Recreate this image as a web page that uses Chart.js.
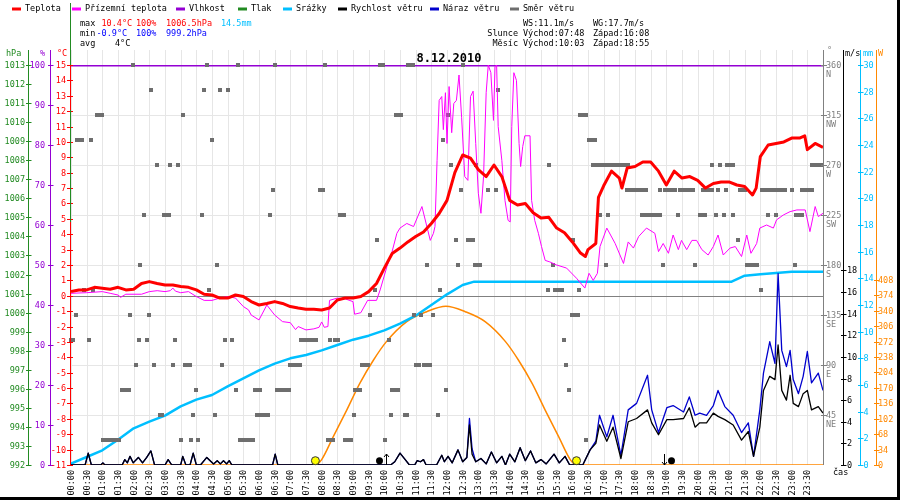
<!DOCTYPE html>
<html lang="cs">
<head>
<meta charset="utf-8">
<title>8.12.2010</title>
<script src="https://cdn.jsdelivr.net/npm/chart.js@4.4.1/dist/chart.umd.min.js"></script>
<style>
  html, body { margin: 0; padding: 0; background: #fff; }
  canvas { display: block; }
</style>
</head>
<body>
<canvas id="meteo" width="900" height="500"></canvas>
<script>
// ---------- data ----------
const tempTimes = [
  '00:00','00:15','00:30','00:45','01:00','01:15','01:30','01:45','02:00','02:15','02:30','02:45',
  '03:00','03:15','03:30','03:45','04:00','04:15','04:30','04:45','05:00','05:15','05:30','05:45',
  '06:00','06:15','06:30','06:45','07:00','07:15','07:30','07:45','08:00','08:15','08:30','08:45',
  '09:00','09:15','09:30','09:45','10:00','10:15','10:30','10:45','11:00','11:15','11:30','11:45',
  '12:00','12:15','12:30','12:45','13:00','13:15','13:30','13:45','14:00','14:15','14:30','14:45',
  '15:00','15:15','15:30','15:45','16:00','16:15','16:25','16:30','16:45','16:50','17:00','17:15',
  '17:30','17:35','17:45','18:00','18:15','18:30','18:45','19:00','19:15','19:30','19:45','20:00',
  '20:15','20:30','20:45','21:00','21:15','21:30','21:45','21:52','22:00','22:15','22:30','22:45',
  '23:00','23:15','23:25','23:30','23:45','24:00'
];
const tempValues = [
  0.27,0.38,0.38,0.55,0.49,0.42,0.55,0.38,0.42,0.8,0.92,0.8,
  0.7,0.7,0.6,0.55,0.38,0.1,0.05,-0.15,-0.15,0.05,-0.05,-0.38,
  -0.6,-0.5,-0.38,-0.5,-0.7,-0.8,-0.88,-0.88,-0.92,-0.8,-0.27,-0.15,
  -0.15,-0.05,0.27,0.8,1.8,2.75,3.1,3.5,3.85,4.15,4.7,5.35,
  6.2,8.0,9.15,8.95,8.2,7.75,8.5,7.75,6.2,5.9,6.0,5.4,
  5.05,5.1,4.4,4.1,3.5,2.8,2.55,3.0,3.4,6.4,7.15,8.1,
  7.65,7.0,8.3,8.4,8.7,8.7,8.1,7.2,8.1,7.65,7.75,7.5,
  7.0,7.3,7.4,7.4,7.2,7.1,6.55,7.0,9.05,9.8,9.9,10.0,
  10.25,10.25,10.4,9.5,9.9,9.65
];

const groundTimes = [
  '00:00','00:30','01:00','01:15','01:30','01:35','01:45','02:15','02:30','02:45','03:00','03:10',
  '03:15','03:20','03:30','03:45','04:00','04:15','04:30','04:45','05:00','05:15','05:30','05:40',
  '05:45','06:00','06:15','06:30','06:45','07:00','07:10','07:15','07:30','07:45','07:55','08:00',
  '08:05','08:12','08:15','08:30','08:45','09:00','09:03','09:15','09:28','09:45','09:52','10:05',
  '10:14','10:24','10:30','10:43','10:56','11:12','11:28','11:34','11:37','11:41','11:45','11:50',
  '11:53','11:57','12:00','12:04','12:09','12:13','12:18','12:23','12:28','12:34','12:40','12:45',
  '12:50','12:55','13:00','13:05','13:10','13:15','13:19','13:24','13:29','13:32','13:35','13:38',
  '13:45','13:51','13:57','14:01','14:04','14:08','14:13','14:18','14:21','14:25','14:29','14:39',
  '14:42','14:48','14:55','15:01','15:08','15:17','15:30','15:49','16:08','16:24','16:32','16:40',
  '16:48','16:53','17:06','17:22','17:38','17:47','17:57','18:07','18:22','18:38','18:45','18:54',
  '19:04','19:13','19:23','19:29','19:39','19:49','19:58','20:08','20:20','20:30','20:39','20:49',
  '21:02','21:12','21:24','21:34','21:42','21:53','21:59','22:12','22:25','22:31','22:44','22:57',
  '23:10','23:26','23:35','23:45','23:51','24:00'
];
const groundValues = [
  0.16,0.2,0.27,0.16,0.05,-0.1,0.1,0.1,0.27,0.33,0.27,0.33,
  0.5,0.3,0.2,0.27,-0.05,-0.3,-0.3,-0.15,-0.05,-0.15,-0.7,-0.92,
  -1.25,-1.57,-0.6,-1.25,-1.68,-1.75,-2.2,-2.0,-2.22,-2.15,-2.05,-1.7,
  -2.05,-2.0,-0.3,-0.15,-0.2,-0.38,-1.2,-1.1,-0.3,-0.3,0.38,1.9,
  2.76,4.06,4.4,4.7,4.5,5.8,3.6,4.06,4.5,8.8,12.7,12.95,
  10.8,13.2,9.9,13.6,10.6,12.5,12.7,14.35,11.6,7.75,7.5,12.95,
  13.3,9.9,6.66,5.36,7.75,13.2,15.0,14.5,11.4,14.9,15.0,11.0,
  8.8,6.2,4.9,4.8,11.0,14.5,14.0,9.9,8.4,9.7,10.4,10.4,
  6.2,4.9,4.06,3.2,2.3,2.2,2.0,1.8,1.14,0.5,1.46,1.0,
  1.46,3.2,4.4,3.4,2.1,3.5,3.1,3.85,4.4,4.06,2.87,3.4,
  2.76,3.95,3.0,3.6,3.0,3.6,3.6,3.0,2.65,3.2,3.95,2.65,
  3.1,3.2,2.55,3.95,2.76,3.4,4.4,4.6,4.4,4.93,5.25,5.47,
  5.58,5.58,4.17,5.8,5.15,5.36
];

const humidityTimes = ['00:00', '24:00'];
const humidityValues = [100, 100];

const rainTimes = [
  '00:00','00:30','01:00','01:30','02:00','02:30','03:00','03:30','04:00','04:30','05:00','05:30',
  '06:00','06:30','07:00','07:30','08:00','08:30','09:00','09:30','10:00','10:30','11:00','11:30',
  '12:00','12:30','12:52','21:05','21:30','22:00','22:30','23:00','24:00'
];
const rainValues = [
  0.1,0.6,1.1,1.9,2.75,3.25,3.7,4.4,4.9,5.25,5.9,6.5,
  7.1,7.6,8.0,8.25,8.6,9.0,9.4,9.7,10.1,10.6,11.2,12.0,
  12.8,13.5,13.75,13.75,14.2,14.3,14.4,14.5,14.5
];

const windTimes = [
  '00:00','00:27','00:33','00:39','00:57','01:01','01:05','01:38','01:43','01:48',
  '01:53','01:59','02:09','02:17','02:25','02:33','02:40','03:00','03:06','03:13',
  '03:30','03:34','03:40','03:48','03:54','04:00','04:08','04:20','04:33','04:40',
  '04:46','04:52','04:58','05:03','05:08','06:26','06:31','06:36','10:12','10:20',
  '10:30','10:40','10:48','10:58','11:03','11:09','11:15','11:20','11:40','11:50',
  '11:55','12:02','12:10','12:21','12:30','12:38','12:43','12:48','12:55','13:05',
  '13:15','13:25','13:35','13:45','13:52','14:00','14:10','14:20','14:30','14:40',
  '14:50','15:00','15:10','15:25','15:35','15:46','15:55','16:20','16:34','16:45',
  '16:52','17:06','17:18','17:33','17:47','18:03','18:24','18:32','18:45','19:01',
  '19:13','19:33','19:44','19:55','20:04','20:17','20:30','20:39','20:52','21:08',
  '21:24','21:37','21:47','21:59','22:06','22:18','22:28','22:34','22:41','22:50',
  '22:57','23:03','23:13','23:22','23:30','23:38','23:51','24:00'
];
const windSpeed = [
  0,0,1.1,0,0,0.2,0,0,0.5,0.2,
  0.8,0.2,0.7,0.2,0.7,1.3,0,0,0.5,0,
  0,0.8,0,0,1.1,0,0,0.7,0.1,0.4,
  0.1,0.4,0.1,0.4,0,0,1.0,0,0,0.3,
  1.1,0.5,0,0,0.4,0.3,0.5,0,0,0.9,
  0.3,0.8,0.2,1.4,0.3,0.7,3.7,1.0,0.3,0.6,
  0.1,1.2,0.2,0.8,0,1.0,0.3,1.6,0.4,1.3,
  0.2,0.5,0.1,1.0,0.2,0.8,0,0,1.4,2.0,
  3.7,2.2,3.5,0.6,4.0,4.3,5.1,3.9,2.8,4.2,
  4.2,4.3,5.3,3.5,3.9,3.9,4.8,4.5,4.2,3.7,
  2.3,3.1,0.8,3.5,6.9,8.2,7.9,11.1,6.9,6.0,
  8.3,5.7,5.4,6.6,6.9,5.1,5.4,4.8
];
const gustSpeed = [
  0,0,1.1,0,0,0.2,0,0,0.5,0.2,
  0.8,0.2,0.7,0.2,0.7,1.3,0,0,0.5,0,
  0,0.8,0,0,1.1,0,0,0.7,0.1,0.4,
  0.1,0.4,0.1,0.4,0,0,1.0,0,0,0.3,
  1.1,0.5,0,0,0.4,0.3,0.5,0,0,0.9,
  0.3,0.8,0.2,1.4,0.3,0.7,4.3,1.5,0.3,0.6,
  0.1,1.2,0.2,0.8,0,1.0,0.3,1.6,0.4,1.3,
  0.2,0.5,0.1,1.0,0.2,0.8,0,0,1.4,2.2,
  4.6,2.6,4.6,0.9,5.1,5.7,8.3,5.1,3.0,5.3,
  5.5,4.9,6.3,4.6,4.8,4.6,5.5,6.9,5.4,4.6,
  3.0,3.9,0.8,5.1,8.5,11.4,9.4,17.7,10.6,9.1,
  10.6,7.9,6.6,8.2,10.5,7.6,8.5,6.9
];

const dirTimes = [
  '00:00','00:03','00:09','00:12','00:17','00:22','00:24','00:34','00:38','00:43','00:49','00:55',
  '01:00','01:02','01:08','01:14','01:20','01:26','01:32','01:37','01:42','01:47','01:51','01:53','01:58',
  '02:04','02:10','02:13','02:20','02:25','02:29','02:34','02:39','02:44','02:50','02:55','02:58',
  '03:03','03:08','03:10','03:15','03:19','03:24','03:30','03:34','03:38','03:43','03:48','03:49','03:54',
  '04:00','04:04','04:10','04:15','04:20','04:25','04:30','04:36','04:39','04:45','04:50','04:55',
  '05:00','05:08','05:15','05:20','05:24','05:30','05:36','05:42','05:49','05:52','05:56','05:57',
  '06:01','06:02','06:07','06:12','06:18','06:21','06:26','06:31','06:34','06:40','06:46','06:52','06:58',
  '07:00','07:05','07:10','07:15','07:19','07:20','07:25','07:30','07:35','07:40','07:45','07:50','07:56',
  '08:02','08:06','08:13','08:16','08:18','08:22','08:26','08:32','08:35','08:40','08:43','08:45','08:51','08:57',
  '09:02','09:04','09:09','09:13','09:17','09:23','09:29','09:33','09:42','09:45','09:52','09:57',
  '10:01','10:08','10:13','10:14','10:20','10:22','10:27','10:27','10:32','10:40','10:43','10:46','10:50','10:54','10:57',
  '11:01','11:06','11:11','11:16','11:21','11:22','11:27','11:34','11:42','11:47','11:52','11:58',
  '12:01','12:08','12:17','12:22','12:27','12:31','12:41','12:45','12:49','12:53','12:56','12:58',
  '13:03','13:18','13:34','13:37',
  '15:13','15:16','15:23','15:26','15:31','15:36','15:40','15:44','15:48','15:54','15:59',
  '16:02','16:04','16:10','16:12','16:15','16:21','16:27','16:27','16:31','16:37','16:40','16:43','16:45','16:50','16:53','16:56',
  '17:02','17:04','17:08','17:11','17:16','17:21','17:26','17:31','17:36','17:41','17:44','17:47','17:49','17:54',
  '18:00','18:05','18:11','18:13','18:16','18:19','18:22','18:25','18:30','18:36','18:42','18:47','18:48','18:53','18:57',
  '19:02','19:07','19:12','19:17','19:23','19:26','19:31','19:36','19:41','19:46','19:52','19:55',
  '20:04','20:09','20:11','20:14','20:16','20:22','20:27','20:27','20:35','20:38','20:43','20:50','20:54','20:57',
  '21:02','21:08','21:08','21:18','21:22','21:27','21:31','21:34','21:39','21:44','21:49','21:53',
  '22:01','22:03','22:08','22:13','22:15','22:18','22:23','22:28','22:30','22:33','22:38','22:43','22:47',
  '23:00','23:06','23:08','23:13','23:19','23:19','23:24','23:29','23:34','23:38','23:38','23:43','23:48','23:53','23:58'
];
const dirValues = [
  112.5,112.5,135,292.5,292.5,292.5,157.5,112.5,292.5,157.5,315,315,
  315,22.5,22.5,22.5,22.5,22.5,22.5,67.5,67.5,67.5,67.5,135,360,
  90,112.5,180,225,112.5,135,337.5,90,270,45,45,225,
  225,225,270,90,112.5,270,22.5,315,90,90,90,22.5,45,
  67.5,22.5,225,337.5,360,157.5,292.5,45,180,337.5,90,112.5,
  337.5,112.5,67.5,360,22.5,22.5,22.5,22.5,22.5,67.5,45,67.5,
  45,67.5,45,45,45,225,247.5,360,67.5,67.5,67.5,67.5,67.5,
  90,90,90,90,90,112.5,112.5,112.5,112.5,112.5,112.5,112.5,247.5,
  247.5,360,22.5,112.5,22.5,22.5,112.5,112.5,225,225,225,22.5,22.5,22.5,
  45,67.5,67.5,67.5,90,90,90,135,157.5,202.5,360,360,
  22.5,112.5,45,67.5,67.5,315,67.5,315,315,45,45,360,360,360,135,
  90,90,135,90,180,90,90,135,45,157.5,292.5,67.5,
  315,270,202.5,180,247.5,360,202.5,202.5,202.5,180,270,180,
  180,247.5,247.5,337.5,
  157.5,270,180,157.5,157.5,157.5,157.5,112.5,90,67.5,135,
  202.5,135,135,157.5,315,315,315,22.5,292.5,292.5,270,292.5,270,270,225,270,
  270,180,225,270,270,270,270,270,270,270,247.5,270,247.5,247.5,
  247.5,247.5,247.5,225,247.5,225,247.5,225,225,225,225,225,247.5,180,247.5,
  247.5,247.5,247.5,247.5,225,247.5,247.5,247.5,247.5,247.5,247.5,180,
  225,225,247.5,225,247.5,247.5,247.5,270,225,247.5,270,225,247.5,270,
  270,270,225,202.5,247.5,247.5,247.5,180,180,180,180,180,
  157.5,247.5,247.5,247.5,225,247.5,247.5,247.5,225,247.5,247.5,247.5,247.5,
  247.5,180,225,225,225,247.5,247.5,247.5,247.5,247.5,270,270,270,270,270
];

const solarTimes = [
  '00:00','07:48','08:00','08:22','08:48','09:13','09:39','10:04','10:43','11:21','11:58',
  '12:35','13:13','13:52','14:17','14:43','15:08','15:34','15:56','16:08','24:00'
];
const solarValues = [0,0,12,62,121,180,231,272,316,338,350,338,316,272,231,180,121,62,12,0,0];

const sunEvents = ['07:48', '16:08'];
const moonRise = '10:03';
const moonSet = '18:55';

// ---------- axis ticks and texts ----------
const timeLabels = [
  '00:00','00:30','01:00','01:30','02:00','02:30','03:00','03:30','04:00','04:30','05:00','05:30',
  '06:00','06:30','07:00','07:30','08:00','08:30','09:00','09:30','10:00','10:30','11:00','11:30',
  '12:00','12:30','13:00','13:30','14:00','14:30','15:00','15:30','16:00','16:30','17:00','17:30',
  '18:00','18:30','19:00','19:30','20:00','20:30','21:00','21:30','22:00','22:30','23:00','23:30'
];
const pressureTicks = [992,993,994,995,996,997,998,999,1000,1001,1002,1003,1004,1005,1006,1007,1008,1009,1010,1011,1012,1013];
const humidityTicks = [0,10,20,30,40,50,60,70,80,90,100];
const tempTicks = [-11,-10,-9,-8,-7,-6,-5,-4,-3,-2,-1,0,1,2,3,4,5,6,7,8,9,10,11,12,13,14,15];
const dirTicks = [45,90,135,180,225,270,315,360];
const compassNames = ['NE','E','SE','S','SW','W','NW','N'];
const windTicks = [0,2,4,6,8,10,12,14,16,18];
const rainTicks = [0,2,4,6,8,10,12,14,16,18,20,22,24,26,28,30];
const solarTicks = [0,34,68,102,136,170,204,238,272,306,340,374,408];

const legendNames = ['Teplota','Přízemní teplota','Vlhkost','Tlak','Srážky','Rychlost větru','Náraz větru','Směr větru'];
const legendColors = ['#ff0000','#ff00ff','#9400d3','#228b22','#00bfff','#000000','#0000cd','#6e6e6e'];
const legendX = [12, 72, 176, 238, 283, 338, 430, 510];

// ---------- helpers ----------
const hours = s => { const p = s.split(':'); return Number(p[0]) + Number(p[1]) / 60; };
const series = (times, values) => times.map((t, i) => ({ x: hours(t), y: values[i] }));
const MONO = '"DejaVu Sans Mono", "Liberation Mono", monospace';
const SMALL = '8.5px ' + MONO;

const dirSquare = document.createElement('canvas');
dirSquare.width = 4; dirSquare.height = 4;
const sq = dirSquare.getContext('2d');
sq.fillStyle = '#6e6e6e';
sq.fillRect(0, 0, 4, 4);

function label(ctx, str, x, y, color, align) {
  ctx.fillStyle = color;
  ctx.textAlign = align || 'left';
  ctx.textBaseline = 'middle';
  ctx.fillText(str, x, y);
}
function vline(ctx, x, y0, y1, color, w) {
  ctx.strokeStyle = color; ctx.lineWidth = w || 1;
  ctx.beginPath(); ctx.moveTo(x, y0); ctx.lineTo(x, y1); ctx.stroke();
}
function hline(ctx, x0, x1, y, color, w) {
  ctx.strokeStyle = color; ctx.lineWidth = w || 1;
  ctx.beginPath(); ctx.moveTo(x0, y); ctx.lineTo(x1, y); ctx.stroke();
}

// left axis: ticks cross the line, labels right-aligned to its left
function leftAxis(ctx, scale, x, color, ticks, labelRight) {
  vline(ctx, x, 50, 465, color);
  ticks.forEach(v => {
    const y = Math.round(scale.getPixelForValue(v)) + 0.5;
    hline(ctx, x - 2.5, x + 3, y, color);
    label(ctx, String(v), labelRight, y, color, 'right');
  });
}
// right axis: ticks cross the line, labels left-aligned to its right
function rightAxis(ctx, scale, x, color, ticks, labelLeft) {
  vline(ctx, x, 50, 465, color);
  ticks.forEach(v => {
    const y = Math.round(scale.getPixelForValue(v)) + 0.5;
    hline(ctx, x - 2.5, x + 3, y, color);
    label(ctx, String(v), labelLeft, y, color, 'left');
  });
}

const decor = {
  id: 'decor',
  beforeDatasetsDraw(chart) {
    const { ctx, chartArea: a, scales: s } = chart;
    ctx.save();
    ctx.strokeStyle = '#e6e6e6';
    ctx.lineWidth = 1;
    ctx.beginPath();
    timeLabels.forEach(t => {
      const x = Math.round(s.x.getPixelForValue(hours(t))) + 0.5;
      ctx.moveTo(x, 50); ctx.lineTo(x, a.bottom);
    });
    dirTicks.forEach(d => {
      const y = Math.round(s.yD.getPixelForValue(d)) + 0.5;
      ctx.moveTo(a.left, y); ctx.lineTo(a.right, y);
    });
    ctx.stroke();
    hline(ctx, a.left, a.right, Math.round(s.yT.getPixelForValue(0)) + 0.5, '#808080');
    ctx.restore();
  },
  afterDatasetsDraw(chart) {
    const { ctx, scales: s } = chart;
    const yMark = s.yW.getPixelForValue(0.4);
    ctx.save();
    // sunrise / sunset
    sunEvents.forEach(t => {
      const x = s.x.getPixelForValue(hours(t));
      ctx.beginPath(); ctx.arc(x, yMark, 4, 0, Math.PI * 2);
      ctx.fillStyle = '#ffff00'; ctx.fill();
      ctx.strokeStyle = '#333'; ctx.lineWidth = 1; ctx.stroke();
    });
    // moonrise / moonset
    [[moonRise, -7, -1], [moonSet, 7, 1]].forEach(([t, dx, dir]) => {
      const x = Math.round(s.x.getPixelForValue(hours(t))) + 0.5;
      ctx.beginPath(); ctx.arc(x + dx, yMark, 3.5, 0, Math.PI * 2);
      ctx.fillStyle = '#000'; ctx.fill();
      vline(ctx, x, 454, 465, '#000');
      const tip = dir < 0 ? 454 : 465;
      ctx.beginPath();
      ctx.moveTo(x - 2.5, tip - dir * 3); ctx.lineTo(x, tip); ctx.lineTo(x + 2.5, tip - dir * 3);
      ctx.stroke();
    });
    ctx.restore();
  },
  afterDraw(chart) {
    const { ctx, chartArea: a, scales: s } = chart;
    ctx.save();
    ctx.font = SMALL;

    // left axes
    leftAxis(ctx, s.yP, 28.5, '#228b22', pressureTicks, 25);
    leftAxis(ctx, s.yH, 50.5, '#9400d3', humidityTicks, 45);
    vline(ctx, 70.5, 65, 465, '#ff0000');
    tempTicks.forEach(v => {
      const y = Math.round(s.yT.getPixelForValue(v)) + 0.5;
      hline(ctx, 67, 73, y, '#ff0000');
      label(ctx, String(v), 66, y, '#ff0000', 'right');
    });
    vline(ctx, 70.5, 3, 65, '#228b22');
    vline(ctx, 70.5, 110, 222, '#228b22');
    label(ctx, 'hPa', 6, 54, '#228b22');
    label(ctx, '%', 40, 54, '#9400d3');
    label(ctx, '°C', 57, 54, '#ff0000');

    // right axes
    vline(ctx, 823.5, 50, 465, '#808080');
    dirTicks.forEach((d, i) => {
      const y = Math.round(s.yD.getPixelForValue(d)) + 0.5;
      hline(ctx, 821, 827, y, '#808080');
      label(ctx, String(d), 826, y, '#808080');
      label(ctx, compassNames[i], 826, y + 9, '#808080');
    });
    rightAxis(ctx, s.yW, 843.5, '#000000', windTicks, 847);
    rightAxis(ctx, s.yR, 860.5, '#00bfff', rainTicks, 863.5);
    rightAxis(ctx, s.yS, 876.5, '#ff8800', solarTicks, 878);
    label(ctx, '°', 827, 51, '#808080');
    label(ctx, 'm/s', 845, 54, '#000000');
    label(ctx, 'mm', 863, 54, '#00bfff');
    label(ctx, 'W', 878, 54, '#ff8800');

    // time labels, rotated
    timeLabels.forEach(t => {
      const x = Math.round(s.x.getPixelForValue(hours(t)));
      ctx.save();
      ctx.translate(x + 0.5, 470);
      ctx.rotate(-Math.PI / 2);
      label(ctx, t, 0, 0, '#000000', 'right');
      ctx.restore();
    });
    label(ctx, 'čas', 833, 473, '#000000');

    // legend row
    legendNames.forEach((n, i) => {
      hline(ctx, legendX[i], legendX[i] + 9, 9, legendColors[i], 3);
      label(ctx, n, legendX[i] + 13, 9, '#000000');
    });

    // min / max / avg
    label(ctx, 'max', 80, 24, '#000');
    label(ctx, '10.4°C', 101.5, 24, '#ff0000');
    label(ctx, '100%', 136, 24, '#ff0000');
    label(ctx, '1006.5hPa', 166, 24, '#ff0000');
    label(ctx, '14.5mm', 221, 24, '#00bfff');
    label(ctx, 'min', 80, 34, '#000');
    label(ctx, '-0.9°C', 96.5, 34, '#0000ff');
    label(ctx, '100%', 136, 34, '#0000ff');
    label(ctx, '999.2hPa', 166, 34, '#0000ff');
    label(ctx, 'avg', 80, 44, '#000');
    label(ctx, '4°C', 115, 44, '#000');

    // wind maxima, sun and moon times
    label(ctx, 'WS:11.1m/s', 523, 24, '#000');
    label(ctx, 'WG:17.7m/s', 593, 24, '#000');
    label(ctx, 'Slunce', 518, 34, '#000', 'right');
    label(ctx, 'Východ:07:48', 523, 34, '#000');
    label(ctx, 'Západ:16:08', 593, 34, '#000');
    label(ctx, 'Měsíc', 518, 44, '#000', 'right');
    label(ctx, 'Východ:10:03', 523, 44, '#000');
    label(ctx, 'Západ:18:55', 593, 44, '#000');

    // date
    ctx.font = 'bold 12px ' + MONO;
    ctx.fillStyle = '#000';
    ctx.textAlign = 'center';
    ctx.textBaseline = 'alphabetic';
    ctx.fillText('8.12.2010', 449, 62);

    // outer frame (right and bottom)
    ctx.fillStyle = '#000';
    ctx.fillRect(897, 0, 3, 500);
    ctx.fillRect(0, 497, 900, 3);
    ctx.restore();
  }
};

const lineBase = { pointRadius: 0, tension: 0, borderJoinStyle: 'round', fill: false };

new Chart(document.getElementById('meteo'), {
  type: 'line',
  data: {
    datasets: [
      Object.assign({}, lineBase, { label: 'Teplota', data: series(tempTimes, tempValues), yAxisID: 'yT', borderColor: '#ff0000', borderWidth: 3, order: 1 }),
      Object.assign({}, lineBase, { label: 'Přízemní teplota', data: series(groundTimes, groundValues), yAxisID: 'yT', borderColor: '#ff00ff', borderWidth: 1, order: 2 }),
      { label: 'Směr větru', data: series(dirTimes, dirValues), yAxisID: 'yD', showLine: false, pointStyle: dirSquare, pointRadius: 2, clip: false, order: 3 },
      Object.assign({}, lineBase, { label: 'Rychlost větru', data: series(windTimes, windSpeed), yAxisID: 'yW', borderColor: '#000000', borderWidth: 1.3, order: 4 }),
      Object.assign({}, lineBase, { label: 'Náraz větru', data: series(windTimes, gustSpeed), yAxisID: 'yW', borderColor: '#0000cd', borderWidth: 1.3, order: 5 }),
      Object.assign({}, lineBase, { label: 'Srážky', data: series(rainTimes, rainValues), yAxisID: 'yR', borderColor: '#00bfff', borderWidth: 2.5, order: 6 }),
      Object.assign({}, lineBase, { label: 'Slunce', data: series(solarTimes, solarValues), yAxisID: 'yS', borderColor: '#ff8800', borderWidth: 1.5, cubicInterpolationMode: 'monotone', order: 7 }),
      Object.assign({}, lineBase, { label: 'Vlhkost', data: series(humidityTimes, humidityValues), yAxisID: 'yH', borderColor: '#9400d3', borderWidth: 3, order: 8 })
    ]
  },
  options: {
    responsive: false,
    devicePixelRatio: 1,
    animation: false,
    events: [],
    layout: { padding: { left: 71, right: 77, top: 65, bottom: 35 } },
    plugins: { legend: { display: false }, tooltip: { enabled: false } },
    scales: {
      x: { type: 'linear', min: 0, max: 24, display: false },
      yT: { type: 'linear', min: -11, max: 15, display: false },
      yH: { type: 'linear', min: 0, max: 100, display: false },
      yP: { type: 'linear', min: 992, max: 1013, display: false },
      yD: { type: 'linear', min: 0, max: 360, display: false },
      yW: { type: 'linear', min: 0, max: 37, display: false },
      yR: { type: 'linear', min: 0, max: 30, display: false },
      yS: { type: 'linear', min: 0, max: 882, display: false }
    }
  },
  plugins: [decor]
});
</script>
</body>
</html>
